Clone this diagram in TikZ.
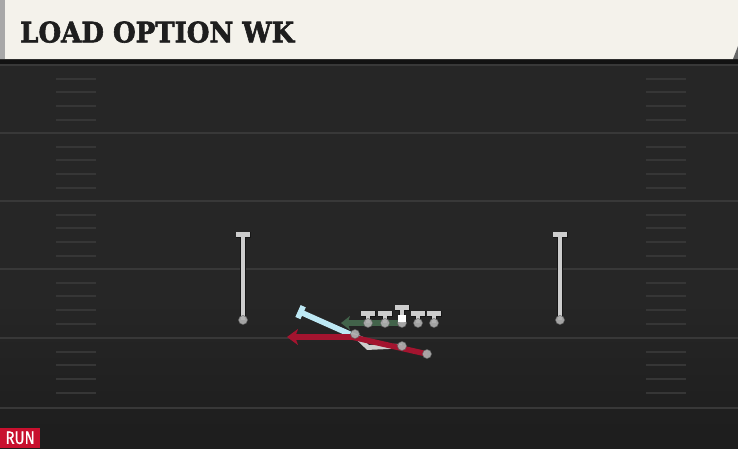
\documentclass[tikz,border=0pt]{standalone}
\usepackage{graphicx}
\usepackage{fontspec}
\newfontfamily\titlefont{DejaVu Serif}[BoldFeatures={FakeBold=2.2}]
\newfontfamily\badgefont{Fira Sans}[FakeBold=0.6]
\usetikzlibrary{arrows.meta}
\definecolor{cream}{HTML}{F4F2EB}
\definecolor{stripe}{HTML}{A8A8A8}
\definecolor{band}{HTML}{121212}
\definecolor{field}{HTML}{262626}
\definecolor{fieldlow}{HTML}{1D1D1D}
\definecolor{yardc}{HTML}{383838}
\definecolor{hashc}{HTML}{363636}
\definecolor{plgray}{HTML}{CDCDCD}
\definecolor{dotgray}{HTML}{AEAEAE}
\definecolor{outl}{HTML}{161616}
\definecolor{runred}{HTML}{A3142F}
\definecolor{lblue}{HTML}{BDE8F4}
\definecolor{pullgreen}{HTML}{42634A}
\definecolor{badgered}{HTML}{C8102E}
\definecolor{titlec}{HTML}{1E1E1E}
\tikzset{
  yard/.style={draw=yardc, line width=1.8pt},
  hashmark/.style={draw=hashc, line width=1.3pt},
  blockroute/.style={draw=plgray, line width=4.6pt, -{Bar[width=13.5pt]},
     preaction={draw=outl, line width=6.4pt, -{Bar[width=15pt]}}},
  dot/.style={circle, fill=dotgray, draw=outl!50!dotgray, line width=0.5pt, minimum size=9pt, inner sep=0pt, opacity=0.92},
  centersq/.style={fill=white, minimum size=7.5pt, inner sep=0pt},
  runarrow/.style={draw=runred, line width=5.6pt, line join=round, -{Stealth[length=11pt,width=16pt,inset=3pt]}},
  pullarrow/.style={draw=pullgreen, line width=5.2pt, -{Stealth[length=9pt,width=14pt,inset=2.5pt]}},
  leadroute/.style={draw=lblue, line width=5.6pt, -{Bar[width=13pt]}},
  backpath/.style={draw=plgray, line width=4.8pt, line join=miter},
}
\begin{document}
\begin{tikzpicture}[x=1pt,y=-1pt]
\useasboundingbox (0,0) rectangle (738,448);
% field
\fill[field] (0,59) rectangle (738,448);
\shade[top color=field, bottom color=fieldlow] (0,300) rectangle (738,448);
% yard lines
\foreach \y in {65,133,201,269,338,408} \draw[yard] (0,\y) -- (738,\y);
% hash marks
\foreach \y in {65,133,201,269,338} {
  \foreach \d in {14,27,41,55} {
    \draw[hashmark] (56,\y+\d) -- (96,\y+\d);
    \draw[hashmark] (646,\y+\d) -- (686,\y+\d);
  }
}
% header
\fill[band] (0,59) rectangle (738,63.5);
\fill[cream] (0,0) -- (738,0) -- (738,46) -- (733,59) -- (0,59) -- cycle;
\fill[stripe] (0,0) rectangle (5,59);
\fill[black!60] (738,46) -- (738,59) -- (733,59) -- cycle;
\node[anchor=south west, inner sep=0pt, text=titlec] (title) at (20,43)
  {\resizebox{274pt}{21pt}{\titlefont\bfseries LOAD OPTION WK}};
% player positions
\coordinate (WL) at (243,320);  \coordinate (WLe) at (243,232);
\coordinate (WR) at (560,320);  \coordinate (WRe) at (560,232);
\coordinate (LT) at (368,323);  \coordinate (LTe) at (368,311);
\coordinate (LG) at (385,323);  \coordinate (LGe) at (385,311);
\coordinate (C)  at (402,323);  \coordinate (Ce)  at (402,305);
\coordinate (RG) at (418,323);  \coordinate (RGe) at (418,311);
\coordinate (RT) at (434,323);  \coordinate (RTe) at (434,311);
\coordinate (Q)  at (355,334);
\coordinate (B1) at (402,346);
\coordinate (B2) at (427,354);
% route waypoints
\coordinate (gS) at (398,323);  \coordinate (gE) at (341,323);
\coordinate (bk) at (368,347.5); \coordinate (bq) at (357,337);
\coordinate (lS) at (363,340);  \coordinate (lE) at (298,311);
\coordinate (rT) at (352,337);  \coordinate (rE) at (287,337);
% routes
\draw[pullarrow] (gS) -- (gE);
\draw[blockroute] (WL) -- (WLe);
\draw[blockroute] (WR) -- (WRe);
\foreach \p in {LT,LG,C,RG,RT} \draw[blockroute] (\p) -- (\p e);
\draw[backpath] (B1) -- (bk) -- (bq);
\draw[leadroute] (lS) -- (lE);
\draw[runarrow] (B2) -- (rT) -- (rE);
% players
\foreach \p in {WL,WR,LT,LG,RG,RT,Q,B1,B2} \node[dot] (d\p) at (\p) {};
\node[dot] (dC) at (C) {};
\node[centersq] (snap) at ([yshift=4.5pt]C) {};
% badge
\node[anchor=south west, fill=badgered, text=white, inner sep=0pt,
  minimum width=40pt, minimum height=20pt] (badge) at (0,448)
  {\badgefont\fontsize{18}{18}\selectfont\scalebox{0.84}[1]{RUN}};
\end{tikzpicture}
\end{document}
